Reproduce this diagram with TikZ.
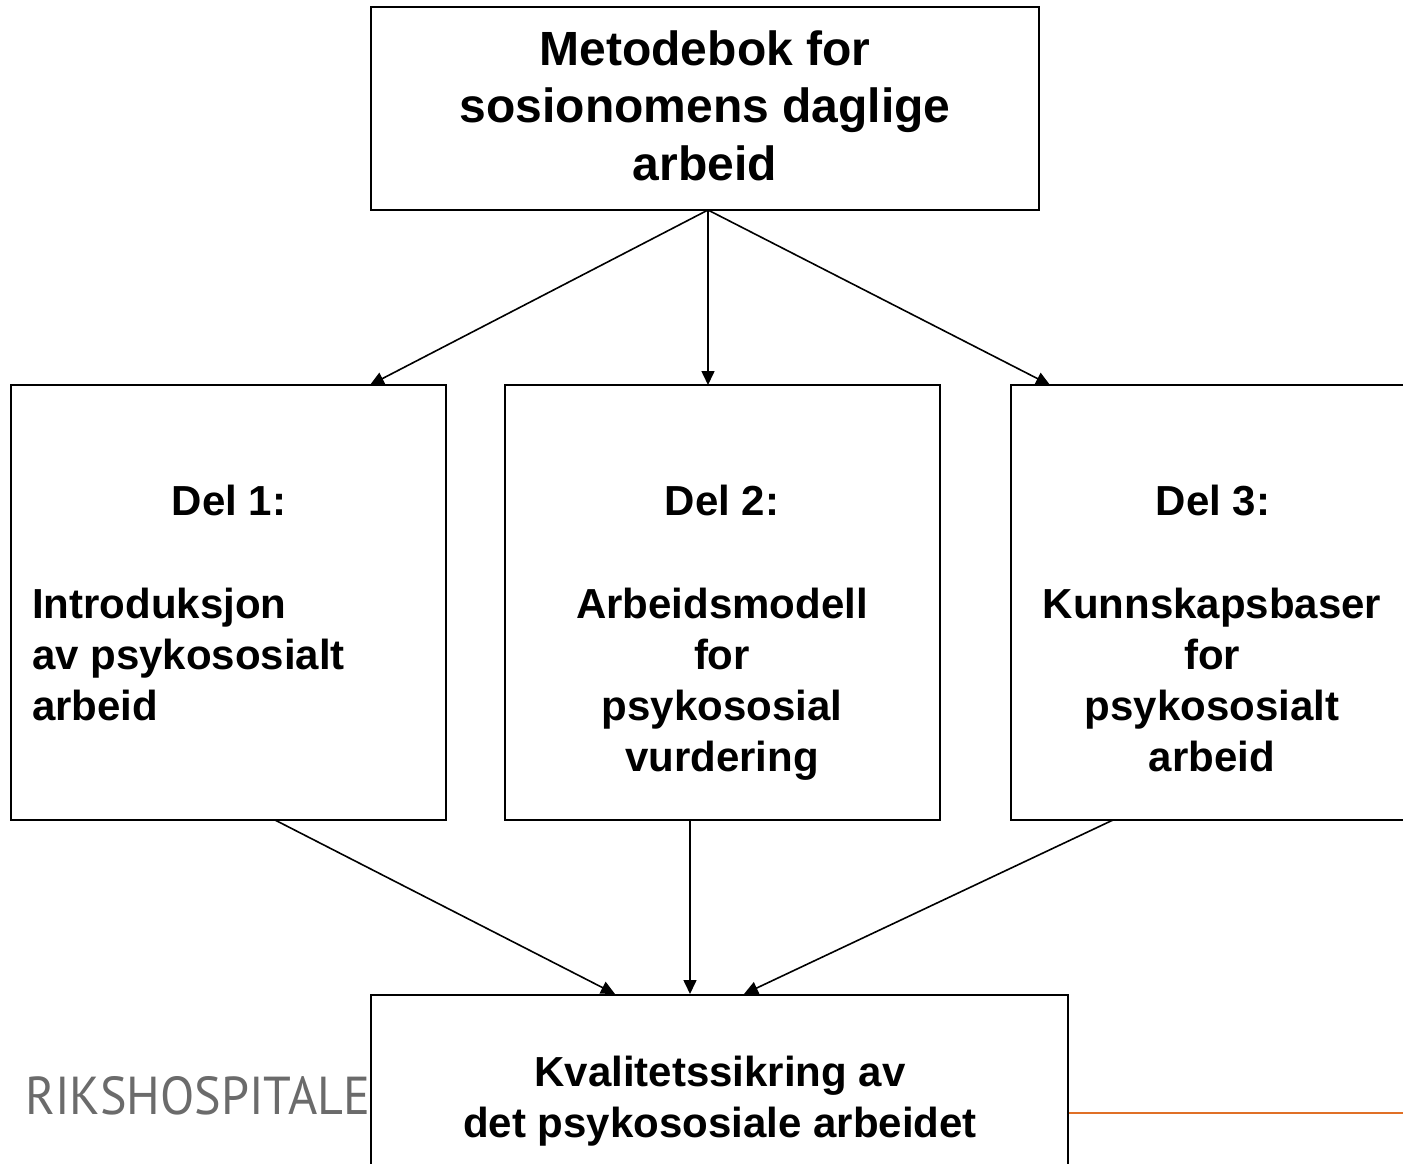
\documentclass[tikz,border=0pt]{standalone}
\usepackage{fontspec}
\setmainfont{Liberation Sans}
\newfontfamily\ptsans{PT Sans}
\usetikzlibrary{arrows.meta}
\definecolor{rhgray}{HTML}{6B6B6B}
\definecolor{rhorange}{HTML}{E07026}
\begin{document}
\begin{tikzpicture}[x=1pt,y=-1pt,
  boxstyle/.style={draw=black, line width=2pt, fill=white, rectangle, inner sep=0pt, outer sep=0pt, anchor=north west},
  conn/.style={line width=1.6pt, -{Triangle[length=14pt,width=13pt]}},
  bigtxt/.style={font=\fontsize{48}{57.5}\selectfont\bfseries, align=center, anchor=base, inner sep=0pt},
  txt/.style={font=\fontsize{42}{51}\selectfont\bfseries, align=center, anchor=base, inner sep=0pt},
  txtl/.style={font=\fontsize{42}{51}\selectfont\bfseries, align=left, anchor=base west, inner sep=0pt},
]
\useasboundingbox (0,0) rectangle (1403,1164);
\clip (0,0) rectangle (1403,1164);
\fill[white] (0,0) rectangle (1403,1164);

% footer
\node[anchor=base west, inner sep=0pt, text=rhgray] (rh) at (25,1114) {\resizebox{345pt}{38pt}{\ptsans RIKSHOSPITALE}};
\coordinate (oL) at (1000,1113);
\coordinate (oR) at (1403,1113);
\draw[rhorange, line width=2.5pt] (oL) -- (oR);

% boxes
\node[boxstyle, minimum width=668pt, minimum height=203pt] (top) at (371,7) {};
\node[boxstyle, minimum width=435pt, minimum height=435pt] (b1) at (11,385) {};
\node[boxstyle, minimum width=435pt, minimum height=435pt] (b2) at (505,385) {};
\node[boxstyle, minimum width=420pt, minimum height=435pt] (b3) at (1011,385) {};
\node[boxstyle, minimum width=697pt, minimum height=250pt] (bot) at (371,995) {};

% connector ends
\coordinate (src) at (708,210);
\coordinate (t1) at (370,385);
\coordinate (t2) at (708,385);
\coordinate (t3) at (1050,385);
\coordinate (s1) at (275,820);
\coordinate (s2) at (690,820);
\coordinate (s3) at (1113,820);
\coordinate (e1) at (615,994);
\coordinate (e2) at (690,994);
\coordinate (e3) at (744,994);

\draw[conn] (src) -- (t1);
\draw[conn] (src) -- (t2);
\draw[conn] (src) -- (t3);
\draw[conn] (s1) -- (e1);
\draw[conn] (s2) -- (e2);
\draw[conn] (s3) -- (e3);

% texts (base anchor = baseline of last line)
\node[bigtxt] (toptxt) at (705,180) {Metodebok for\\sosionomens daglige\\arbeid};
\node[txt] (d1) at (229,515) {Del 1:};
\node[txtl] (d1txt) at (32,720) {Introduksjon\\av psykososialt\\arbeid};
\node[txt] (d2) at (722,515) {Del 2:};
\node[txt] (d2txt) at (722,771) {Arbeidsmodell\\for\\psykososial\\vurdering};
\node[txt] (d3) at (1213,515) {Del 3:};
\node[txt] (d3txt) at (1212,771) {Kunnskapsbaser\\for\\psykososialt\\arbeid};
\node[txt] (bottxt) at (720,1137) {Kvalitetssikring av\\det psykososiale arbeidet};
\end{tikzpicture}
\end{document}
